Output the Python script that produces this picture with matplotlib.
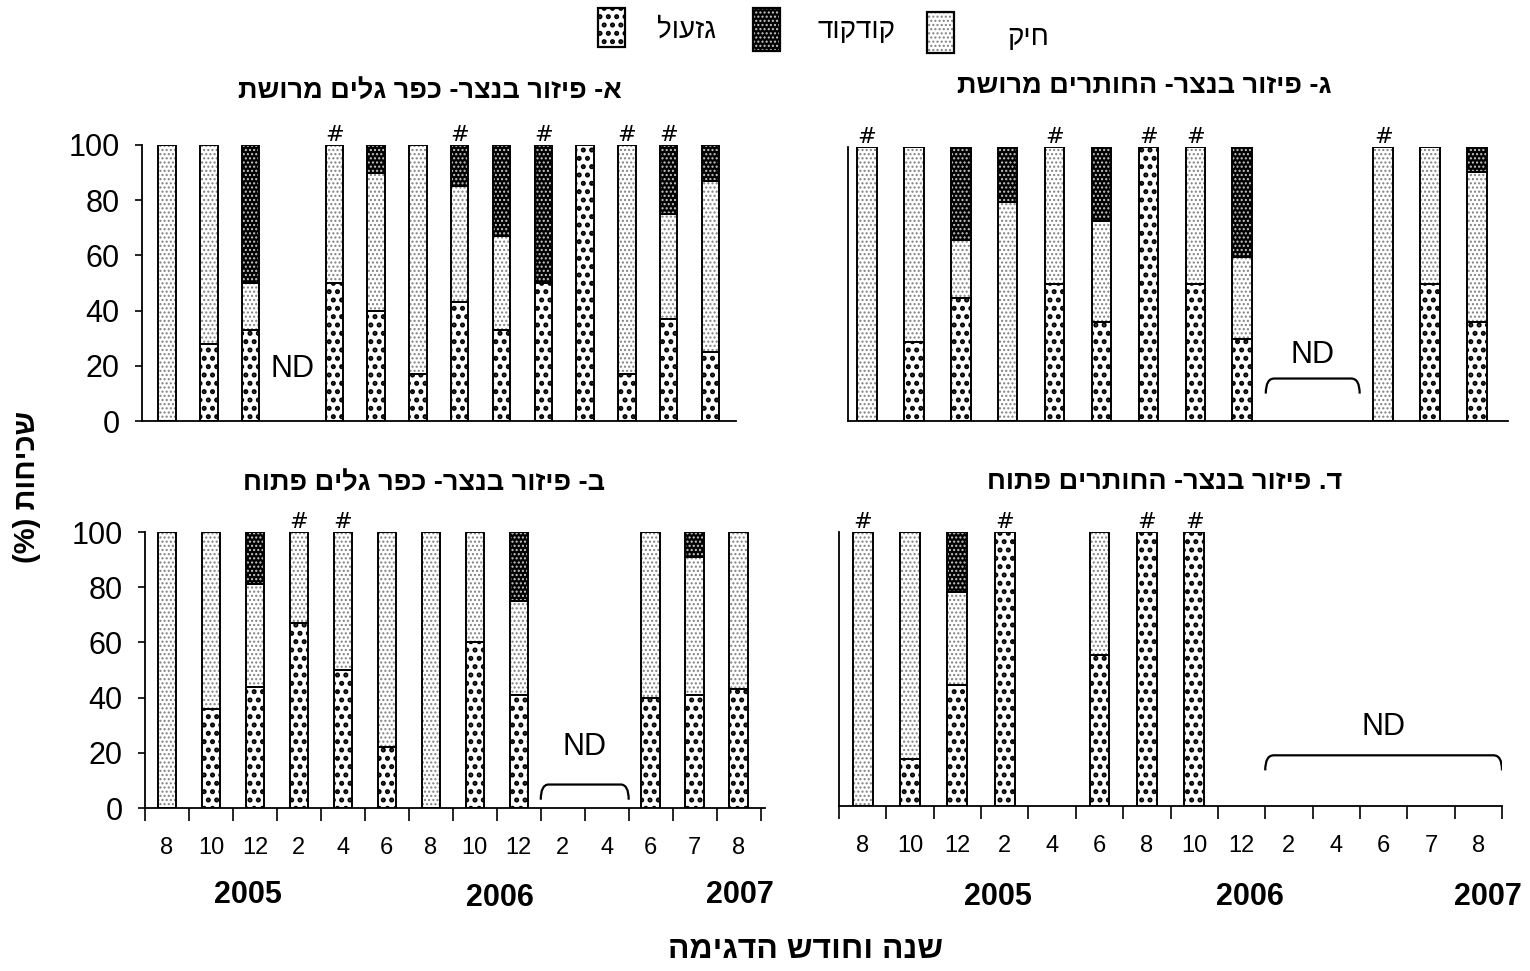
import numpy as np
import matplotlib
matplotlib.use("Agg")
import matplotlib.pyplot as plt
from matplotlib.patches import Rectangle, PathPatch
from matplotlib.path import Path

plt.rcParams['font.family'] = ['Liberation Sans', 'DejaVu Sans']
plt.rcParams['hatch.linewidth'] = 1.0

# Sampling months (2005-2007)
months = ["8", "10", "12", "2", "4", "6", "8", "10", "12", "2", "4", "6", "7", "8"]
nan = np.nan

# Share (%) per sampling date: trunk (gaz), crown (kod), bosom (chik)
# Panel a - Kfar Galim, netted
a_gaz  = [0, 28, 33, nan, 50, 40, 17, 43, 33, 50, 100, 17, 37, 25]
a_chik = [100, 72, 17, nan, 50, 50, 83, 42, 34, 0, 0, 83, 38, 62]
a_kod  = [0, 0, 50, nan, 0, 10, 0, 15, 33, 50, 0, 0, 25, 13]
a_hash = [4, 7, 9, 11, 12]
a_nd = [3]

# Panel g - HaHotrim, netted
g_gaz  = [0, 29, 45, 0, 50, 36, 100, 50, 30, nan, nan, 0, 50, 36]
g_chik = [100, 71, 21, 80, 50, 37, 0, 50, 30, nan, nan, 100, 50, 55]
g_kod  = [0, 0, 34, 20, 0, 27, 0, 0, 40, nan, nan, 0, 0, 9]
g_hash = [0, 4, 6, 7, 11]
g_nd = [9, 10]

# Panel b - Kfar Galim, open
b_gaz  = [0, 36, 44, 67, 50, 22, 0, 60, 41, nan, nan, 40, 41, 43]
b_chik = [100, 64, 37, 33, 50, 78, 100, 40, 34, nan, nan, 60, 50, 57]
b_kod  = [0, 0, 19, 0, 0, 0, 0, 0, 25, nan, nan, 0, 9, 0]
b_hash = [3, 4]
b_nd = [9, 10]

# Panel d - HaHotrim, open
d_gaz  = [0, 17, 44, 100, nan, 55, 100, 100, nan, nan, nan, nan, nan, nan]
d_chik = [100, 83, 34, 0, nan, 45, 0, 0, nan, nan, nan, nan, nan, nan]
d_kod  = [0, 0, 22, 0, nan, 0, 0, 0, nan, nan, nan, nan, nan, nan]
d_hash = [0, 3, 6, 7]
d_nd = [9, 10, 11, 12, 13]

# fill colour, dot colour, dot pattern, dot stroke width
STYLES = {
    "gaz": ("white", "black", "..", 2.4),
    "kod": ("black", "#c8c8c8", "....", 1.0),
    "chik": ("white", "#808080", "....", 1.0),
}

MIRROR = str.maketrans("()", ")(")


def rtl(text):
    # no bidi support in matplotlib: lay the Hebrew out in visual order
    return text[::-1].translate(MIRROR)


W, H = 1530, 971
fig = plt.figure(figsize=(W / 100, H / 100), dpi=100)


def px_axes(x0, y_top, x1, y_bot):
    return fig.add_axes([x0 / W, 1 - y_bot / H, (x1 - x0) / W, (y_bot - y_top) / H])


def draw_panel(ax, gaz, chik, kod, hashes, xlim, width=0.42):
    x = np.arange(len(months))
    bottom = np.zeros(len(x))
    for key, vals in (("gaz", gaz), ("chik", chik), ("kod", kod)):
        face, dots, hatch, hlw = STYLES[key]
        v = np.nan_to_num(np.array(vals, dtype=float))
        m = v > 0
        with plt.rc_context({"hatch.linewidth": hlw}):
            ax.bar(x[m], v[m], width, bottom=bottom[m], color=face,
                   edgecolor=dots, hatch=hatch, linewidth=0, zorder=2)
        ax.bar(x[m], v[m], width, bottom=bottom[m], fill=False,
               edgecolor="black", linewidth=1.4, zorder=3)
        bottom += v
    for i in hashes:
        ax.annotate("#", (i, 100), xytext=(0, 0), textcoords="offset points",
                    ha="center", va="bottom", fontsize=16, family="DejaVu Sans")
    ax.set_xlim(*xlim)
    ax.set_ylim(0, 100)
    for s in ("top", "right"):
        ax.spines[s].set_visible(False)
    for s in ("left", "bottom"):
        ax.spines[s].set_linewidth(1.3)
    ax.patch.set_alpha(0)


def brace(ax, x0, x1, y_low, y_top, r=0.18):
    verts = [(x0, y_low), (x0, y_top), (x0 + r, y_top),
             (x1 - r, y_top), (x1, y_top), (x1, y_low)]
    codes = [Path.MOVETO, Path.CURVE3, Path.CURVE3,
             Path.LINETO, Path.CURVE3, Path.CURVE3]
    ax.add_patch(PathPatch(Path(verts, codes), fill=False, lw=1.6,
                           edgecolor="black", zorder=4))


yt = np.arange(0, 101, 20)
nd_kw = dict(ha="center", va="center", fontsize=22)
ytick_kw = dict(axis="y", length=5, width=1.2, labelsize=22, pad=11)

# top left (a)
ax_a = px_axes(142, 145, 735.6, 421)
draw_panel(ax_a, a_gaz, a_chik, a_kod, a_hash, (-0.6, 13.6))
ax_a.set_xticks([])
ax_a.set_yticks(yt)
ax_a.tick_params(**ytick_kw)
ax_a.text(np.mean(a_nd), 19, "ND", **nd_kw)

# top right (g)
ax_g = px_axes(848, 147, 1508, 421)
draw_panel(ax_g, g_gaz, g_chik, g_kod, g_hash, (-0.4, 13.66))
ax_g.set_xticks([])
ax_g.set_yticks([])
brace(ax_g, min(g_nd) - 0.5, max(g_nd) + 0.5, 10, 15.5)
ax_g.text(np.mean(g_nd), 24, "ND", **nd_kw)

# bottom left (b)
ax_b = px_axes(145, 532, 765, 808)
draw_panel(ax_b, b_gaz, b_chik, b_kod, b_hash, (-0.5, 13.6))
ax_b.set_yticks(yt)
ax_b.tick_params(**ytick_kw)
brace(ax_b, min(b_nd) - 0.5, max(b_nd) + 0.5, 3, 8.5)
ax_b.text(np.mean(b_nd), 22, "ND", **nd_kw)

# bottom right (d)
ax_d = px_axes(839, 532, 1502, 806)
draw_panel(ax_d, d_gaz, d_chik, d_kod, d_hash, (-0.5, 13.5))
ax_d.set_yticks([])
brace(ax_d, min(d_nd) - 0.5, max(d_nd) + 0.5, 13, 18.5)
ax_d.text(np.mean(d_nd), 29, "ND", **nd_kw)

for ax in (ax_b, ax_d):
    ax.set_xticks(np.arange(-0.5, len(months), 1))
    ax.set_xticklabels([])
    ax.set_xticks(np.arange(len(months)), minor=True)
    ax.set_xticklabels(months, minor=True)
    ax.tick_params(axis="x", which="major", length=9, width=1.2)
    ax.tick_params(axis="x", which="minor", length=0, pad=21, labelsize=17)

# panel titles
title_kw = dict(ha="center", va="center", fontsize=19.5, fontweight="bold")
fig.text(430 / W, 1 - 91 / H, rtl("א- פיזור בנצר- כפר גלים מרושת"), **title_kw)
fig.text(1144 / W, 1 - 86 / H, rtl("ג- פיזור בנצר- החותרים מרושת"), **title_kw)
fig.text(424 / W, 1 - 483 / H, rtl("ב- פיזור בנצר- כפר גלים פתוח"), **title_kw)
fig.text(1165 / W, 1 - 482 / H, rtl("ד. פיזור בנצר- החותרים פתוח"), **title_kw)

# years under the month labels
year_kw = dict(ha="center", va="center", fontsize=22, fontweight="bold")
for xp, yp, yr in ((248, 895, "2005"), (500, 898, "2006"), (740, 895, "2007"),
                   (998, 897, "2005"), (1250, 897, "2006"), (1488, 897, "2007")):
    fig.text(xp / W, 1 - yp / H, yr, **year_kw)

fig.text(806 / W, 1 - 950 / H, rtl("שנה וחודש הדגימה"), ha="center", va="center",
         fontsize=23, fontweight="bold")
fig.text(27 / W, 1 - 487 / H, rtl("שכיחות (%)"), ha="center", va="center",
         rotation=90, fontsize=21, fontweight="bold")

# legend
for (bx, by0, by1), key, (tx, ty), name in (
        ((598, 8, 47), "gaz", (687, 31), "גזעול"),
        ((753, 8, 51), "kod", (856, 31), "קודקוד"),
        ((927, 12, 53), "chik", (1028, 38), "חיק")):
    face, dots, hatch, hlw = STYLES[key]
    rect = dict(xy=(bx / W, 1 - by1 / H), width=27 / W, height=(by1 - by0) / H,
                transform=fig.transFigure)
    with plt.rc_context({"hatch.linewidth": hlw}):
        fig.patches.append(Rectangle(**rect, facecolor=face, edgecolor=dots,
                                     hatch=hatch, linewidth=0))
    fig.patches.append(Rectangle(**rect, fill=False, edgecolor="black", linewidth=1.6))
    fig.text(tx / W, 1 - ty / H, rtl(name), ha="center", va="center", fontsize=20)

fig.savefig("out.png", dpi=100)
